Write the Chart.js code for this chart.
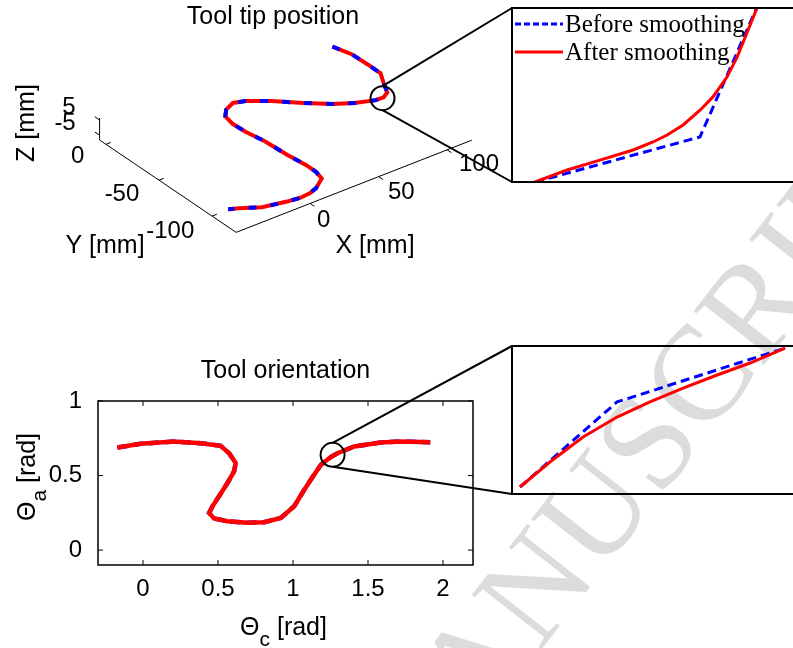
<!DOCTYPE html>
<html><head><meta charset="utf-8">
<script src="https://cdn.jsdelivr.net/npm/chart.js@4.4.1/dist/chart.umd.min.js"></script>
<style>
html,body{margin:0;padding:0;background:#fff;}
#wrap{position:relative;width:793px;height:648px;overflow:hidden;background:#fff;}
canvas{position:absolute;left:0;top:0;}
#wm{position:absolute;left:405px;top:824px;font:135px 'Liberation Serif','Times New Roman',serif;color:#dcdcdc;white-space:nowrap;line-height:1;transform-origin:0 0;transform:rotate(-52deg) translate(0,-113px);}
</style></head>
<body><div id="wrap">
<div id="wm">MANUSCRIPT</div>
<canvas id="c3d" width="793" height="648"></canvas>
<canvas id="cOri" width="793" height="648"></canvas>
<canvas id="cZoomTip" width="793" height="648"></canvas>
<canvas id="cZoomOri" width="793" height="648"></canvas>
</div>
<script>
// ================= DATA =================
// Tool tip path (mm), read off the 3D view
const tipX = [109.1,112.8,113.2,113.1,107.9,103.1,98.1,92.5,80.8,69.8,57.1,43.7,31.6,24.5,16.8,11.8,10.1,10.7,13.1,14.2,15.9,15.8,13.9,4.7,-1.3,-9.0,-17.9,-33.4,-44.8,-50.3];
const tipY = [-2.8,-16.2,-31.2,-43.1,-52.6,-62.3,-65.3,-65.1,-60.3,-53.5,-42.6,-30.0,-21.0,-18.3,-21.9,-27.5,-36.9,-48.0,-63.1,-82.6,-98.6,-107.8,-115.7,-122.2,-124.4,-125.3,-124.0,-120.4,-113.3,-110.4];
const tipZ = [0,0,0,0,0,0,0,0,0,0,0,0,0,0,0,0,0,0,0,0,0,0,0,0,0,0,0,0,0,0];
const tipXLim = [-54, 118], tipYLim = [-122.7, 6], tipZLim = [-8.1, 6.25];
const tipXTicks = [0, 50, 100], tipYTicks = [-100, -50, 0], tipZTicks = [-5, 5];
const tipZoomCenter = [97, -65.7, 0];

// Tool orientation (rad)
const oriC = [-0.171,-0.016,0.207,0.385,0.518,0.574,0.618,0.607,0.563,0.507,0.463,0.441,0.474,0.563,0.696,0.808,0.919,1.008,1.075,1.141,1.186,1.252,1.297,1.408,1.586,1.720,1.915];
const oriA = [0.688,0.713,0.728,0.717,0.699,0.650,0.584,0.528,0.450,0.361,0.294,0.249,0.212,0.194,0.183,0.187,0.216,0.294,0.405,0.506,0.572,0.624,0.650,0.695,0.722,0.728,0.724];
const oriXTicks = [0, 0.5, 1, 1.5, 2], oriYTicks = [0, 0.5, 1];
const oriZoomCenter = [1.264, 0.639];

// Zoomed details (relative units 0..100 of the inset box)
const zTipBeforeU = [8.2, 66.9, 87.2], zTipBeforeV = [0, 25.9, 100.6];
const zTipAfterU = [8.2,19.6,31.3,43.1,50.2,55.2,60.9,67.0,71.5,76.5,80.1,83.6,87.2];
const zTipAfterV = [0,6.9,12.6,18.4,23.0,27.0,32.8,41.4,48.9,60.3,71.8,85.6,100];
const zOriBeforeU = [2.85, 37.4, 97.2], zOriBeforeV = [4.73, 62.2, 98.6];
const zOriAfterU = [2.85,13.5,25.3,37.4,49.1,60.9,73.0,84.7,97.2];
const zOriAfterV = [4.73,21.6,38.5,52.0,62.2,71.6,80.4,88.5,98.6];

const LBL_BEFORE = 'Before smoothing', LBL_AFTER = 'After smoothing';

// ================= LAYOUT / STYLE =================
const W = 793, H = 648;
const SANS = "'Liberation Sans', Arial, sans-serif";
const SERIF = "'Liberation Serif', 'Times New Roman', serif";
const RED = '#ff0000', BLUE = '#0000ff';
const INSET_TIP = {left:512, top:8, bottom:182};
const INSET_ORI = {left:512, top:346, bottom:494};
const ZOOM_R = 12;
const VIEW = {o:[172,93], ex:[1.42,-0.56], ey:[-1.1,-0.75], ez:[0,-1.6]};
function proj(X,Y,Z){
  return {x: VIEW.o[0]+X*VIEW.ex[0]+Y*VIEW.ey[0]+Z*VIEW.ez[0],
          y: VIEW.o[1]+X*VIEW.ex[1]+Y*VIEW.ey[1]+Z*VIEW.ez[1]};
}
Chart.defaults.font.family = SANS;
Chart.defaults.color = '#000';
const base = {responsive:false, animation:false, events:[], plugins:{legend:{display:false}, tooltip:{enabled:false}, title:{display:false}}};
const pts = (xs, ys) => xs.map((x,i)=>({x:x, y:ys[i]}));
function line(ctx,x1,y1,x2,y2){ctx.beginPath();ctx.moveTo(x1,y1);ctx.lineTo(x2,y2);ctx.stroke();}
function subText(ctx, parts, x, y, rot){
  ctx.save(); ctx.translate(x,y); if(rot) ctx.rotate(rot);
  let total=0;
  parts.forEach(p=>{ctx.font=p.size+'px '+SANS; p.w=ctx.measureText(p.t).width; total+=p.w;});
  let cx=-total/2; ctx.textBaseline='alphabetic'; ctx.textAlign='left'; ctx.fillStyle='#000';
  parts.forEach(p=>{ctx.font=p.size+'px '+SANS; ctx.fillText(p.t,cx,p.dy); cx+=p.w;});
  ctx.restore();
}

// ================= 3D TOOL TIP CHART =================
(function(){
  const tipPts = tipX.map((x,i)=>proj(x,tipY[i],tipZ[i]));
  const axis = (a,b) => ({data:[proj(...a),proj(...b)], showLine:true, borderColor:'#000', borderWidth:1, pointRadius:0, order:5});
  const ds = [
    {label:LBL_BEFORE, data:tipPts, showLine:true, borderColor:BLUE, borderWidth:4, borderDash:[8,14], pointRadius:0, order:1},
    {label:LBL_AFTER, data:tipPts, showLine:true, borderColor:RED, borderWidth:4, pointRadius:0, order:2},
    axis([tipXLim[0],tipYLim[0],tipZLim[0]],[tipXLim[1],tipYLim[0],tipZLim[0]]),
    axis([tipXLim[0],tipYLim[0],tipZLim[0]],[tipXLim[0],tipYLim[1],tipZLim[0]]),
    axis([tipXLim[0],tipYLim[1],tipZLim[0]],[tipXLim[0],tipYLim[1],tipZLim[1]])
  ];
  tipXTicks.forEach(v=>ds.push(axis([v,tipYLim[0],tipZLim[0]],[v,tipYLim[0]-4,tipZLim[0]])));
  tipYTicks.forEach(v=>ds.push(axis([tipXLim[0],v,tipZLim[0]],[tipXLim[0]+3.5,v,tipZLim[0]])));
  tipZTicks.forEach(v=>ds.push(axis([tipXLim[0],tipYLim[1],v],[tipXLim[0],tipYLim[1]+4.5,v])));
  const zoomIdx = ds.length;
  ds.push({data:[proj(...tipZoomCenter)], pointRadius:ZOOM_R, pointBorderWidth:2, pointBorderColor:'#000', pointBackgroundColor:'rgba(0,0,0,0)', order:0});

  const deco = {id:'deco3d', afterDraw(chart){
    const ctx = chart.ctx; ctx.save();
    ctx.fillStyle='#000';
    ctx.font='24px '+SANS; ctx.textBaseline='alphabetic';
    ctx.textAlign='left';
    tipXTicks.forEach(v=>{const p=proj(v,tipYLim[0],tipZLim[0]); ctx.fillText(String(v),p.x+10,p.y+29);});
    ctx.textAlign='right';
    tipYTicks.forEach(v=>{const p=proj(tipXLim[0],v,tipZLim[0]); ctx.fillText(String(v),p.x-11,p.y+27);});
    tipZTicks.forEach(v=>{const p=proj(tipXLim[0],tipYLim[1],v); ctx.fillText(String(v),p.x-13,p.y+3);});
    ctx.font='25px '+SANS; ctx.textAlign='center';
    ctx.fillText('Tool tip position', 273, 24);
    ctx.fillText('X [mm]', 375, 253);
    ctx.fillText('Y [mm]', 105, 253);
    ctx.save(); ctx.translate(34,123); ctx.rotate(-Math.PI/2); ctx.fillText('Z [mm]',0,0); ctx.restore();
    // connectors to inset
    const c = chart.getDatasetMeta(zoomIdx).data[0];
    ctx.strokeStyle='#000'; ctx.lineWidth=2;
    line(ctx,c.x,c.y-ZOOM_R,INSET_TIP.left,INSET_TIP.top);
    line(ctx,c.x,c.y+ZOOM_R,INSET_TIP.left,INSET_TIP.bottom);
    ctx.restore();
  }};
  new Chart(document.getElementById('c3d'), {
    type:'scatter', data:{datasets:ds},
    options:Object.assign({}, base, {layout:{padding:0},
      scales:{x:{type:'linear',display:false,min:0,max:W}, y:{type:'linear',display:false,min:0,max:H,reverse:true}}}),
    plugins:[deco]
  });
})();

// ================= ORIENTATION CHART =================
(function(){
  const d = pts(oriC, oriA);
  const deco = {id:'decoOri', afterDraw(chart){
    const ctx=chart.ctx, a=chart.chartArea, sx=chart.scales.x, sy=chart.scales.y;
    ctx.save(); ctx.strokeStyle='#000'; ctx.lineWidth=1;
    oriXTicks.forEach(v=>{const x=sx.getPixelForValue(v); line(ctx,x,a.bottom,x,a.bottom-5); line(ctx,x,a.top,x,a.top+5);});
    oriYTicks.forEach(v=>{const y=sy.getPixelForValue(v); line(ctx,a.left,y,a.left+5,y); line(ctx,a.right,y,a.right-5,y);});
    ctx.lineWidth=1.5; ctx.strokeRect(a.left,a.top,a.right-a.left,a.bottom-a.top);
    ctx.fillStyle='#000'; ctx.font='25px '+SANS; ctx.textAlign='center'; ctx.textBaseline='alphabetic';
    ctx.fillText('Tool orientation',(a.left+a.right)/2,a.top-23);
    subText(ctx,[{t:'Θ',size:25,dy:0},{t:'c',size:21,dy:11},{t:' [rad]',size:25,dy:0}],(a.left+a.right)/2-2,a.bottom+70,0);
    subText(ctx,[{t:'Θ',size:25,dy:0},{t:'a',size:21,dy:11},{t:' [rad]',size:25,dy:0}],35,(a.top+a.bottom)/2-6,-Math.PI/2);
    const c = chart.getDatasetMeta(2).data[0];
    ctx.lineWidth=2;
    line(ctx,c.x,c.y-ZOOM_R,INSET_ORI.left,INSET_ORI.top);
    line(ctx,c.x,c.y+ZOOM_R,INSET_ORI.left,INSET_ORI.bottom);
    ctx.restore();
  }};
  new Chart(document.getElementById('cOri'), {
    type:'scatter',
    data:{datasets:[
      {label:LBL_AFTER, data:d, showLine:true, borderColor:RED, borderWidth:4.5, pointRadius:0, order:1},
      {label:LBL_BEFORE, data:d, showLine:true, borderColor:BLUE, borderWidth:4.5, borderDash:[10,6], pointRadius:0, order:2},
      {data:[{x:oriZoomCenter[0],y:oriZoomCenter[1]}], pointRadius:ZOOM_R, pointBorderWidth:2, pointBorderColor:'#000', pointBackgroundColor:'rgba(0,0,0,0)', order:0}
    ]},
    options:Object.assign({}, base, {
      layout:{padding:{left:0, top:401, right:320, bottom:0}},
      scales:{
        x:{type:'linear', min:-0.3, max:2.2, grid:{display:false}, border:{display:false},
           afterBuildTicks:s=>{s.ticks=oriXTicks.map(v=>({value:v}));},
           ticks:{font:{size:24}, padding:2, maxRotation:0, autoSkip:false, callback:v=>String(v)},
           afterFit:s=>{s.height=83;}},
        y:{type:'linear', min:-0.1, max:1, grid:{display:false}, border:{display:false},
           afterBuildTicks:s=>{s.ticks=oriYTicks.map(v=>({value:v}));},
           ticks:{font:{size:24}, padding:8, autoSkip:false, callback:v=>String(v)},
           afterFit:s=>{s.width=98;}}
      }}),
    plugins:[deco]
  });
})();

// ================= INSETS =================
function insetChart(id, box, before, after, legend){
  const deco = {id:'decoInset'+id, afterDraw(chart){
    const ctx=chart.ctx, a=chart.chartArea;
    ctx.save(); ctx.strokeStyle='#000'; ctx.lineWidth=2;
    ctx.strokeRect(a.left,a.top,W+10-a.left,a.bottom-a.top);
    if(legend){
      ctx.lineWidth=3;
      ctx.strokeStyle=BLUE; ctx.setLineDash([6,3]); line(ctx,a.left+3,a.top+16,a.left+51,a.top+16);
      ctx.strokeStyle=RED; ctx.setLineDash([]); line(ctx,a.left+3,a.top+44,a.left+51,a.top+44);
      ctx.fillStyle='#000'; ctx.font='25px '+SERIF; ctx.textAlign='left'; ctx.textBaseline='alphabetic';
      ctx.fillText(chart.data.datasets[1].label,a.left+53,a.top+24);
      ctx.fillText(chart.data.datasets[0].label,a.left+53,a.top+52);
    }
    ctx.restore();
  }};
  new Chart(document.getElementById(id), {
    type:'scatter',
    data:{datasets:[
      {label:LBL_AFTER, data:after, showLine:true, borderColor:RED, borderWidth:3, pointRadius:0, order:0},
      {label:LBL_BEFORE, data:before, showLine:true, borderColor:BLUE, borderWidth:3, borderDash:[9,5], pointRadius:0, order:1}
    ]},
    options:Object.assign({}, base, {
      layout:{padding:{left:box.left, top:box.top, right:0, bottom:H-box.bottom}},
      scales:{x:{type:'linear',display:false,min:0,max:100}, y:{type:'linear',display:false,min:0,max:100}}}),
    plugins:[deco]
  });
}
insetChart('cZoomTip', INSET_TIP, pts(zTipBeforeU,zTipBeforeV), pts(zTipAfterU,zTipAfterV), true);
insetChart('cZoomOri', INSET_ORI, pts(zOriBeforeU,zOriBeforeV), pts(zOriAfterU,zOriAfterV), false);
</script>
</body></html>
